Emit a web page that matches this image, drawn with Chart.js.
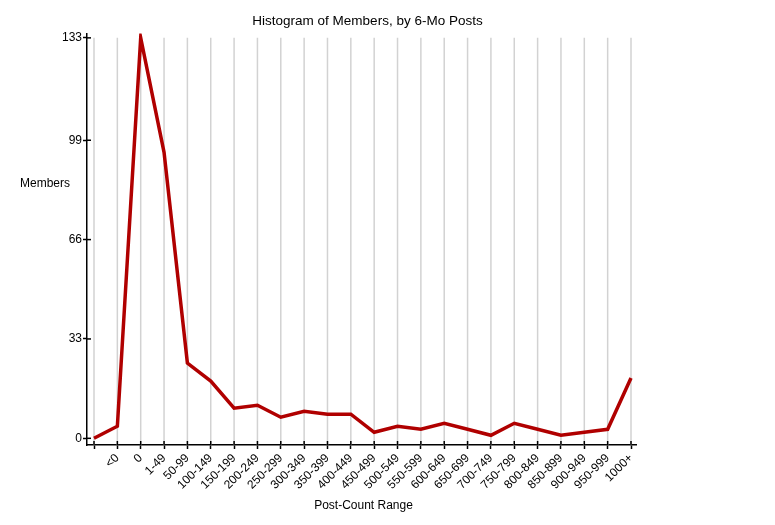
<!DOCTYPE html>
<html>
<head>
<meta charset="utf-8">
<script src="https://cdn.jsdelivr.net/npm/chart.js@4/dist/chart.umd.min.js"></script>
<style>
html,body{margin:0;padding:0;background:#fff;}
#wrap{width:775px;height:525px;position:relative;}
</style>
</head>
<body>
<div id="wrap"><canvas id="c" width="775" height="525"></canvas></div>
<script>
const categories = ["", "<0", "0", "1-49", "50-99", "100-149", "150-199", "200-249", "250-299",
  "300-349", "350-399", "400-449", "450-499", "500-549", "550-599", "600-649", "650-699",
  "700-749", "750-799", "800-849", "850-899", "900-949", "950-999", "1000+"];
const members = [0, 4, 133, 95, 25, 19, 10, 11, 7, 9, 8, 8, 2, 4, 3, 5, 3, 1, 5, 3, 1, 2, 3, 20];
const yTicks = [0, 33, 66, 99, 133];
const chartTitle = "Histogram of Members, by 6-Mo Posts";
const xTitle = "Post-Count Range";
const yTitle = "Members";

const FONT = "'Liberation Sans', Arial, Helvetica, sans-serif";

const decor = {
  id: 'decor',
  beforeDatasetsDraw(chart) {
    const ctx = chart.ctx, xs = chart.scales.x, ys = chart.scales.y;
    const area = chart.chartArea;
    ctx.save();
    // vertical grid lines
    ctx.strokeStyle = '#d2d2d2';
    ctx.lineWidth = 1.5;
    const yTop = ys.getPixelForValue(yTicks[yTicks.length - 1]);
    categories.forEach((c, i) => {
      const x = xs.getPixelForValue(i);
      ctx.beginPath();
      ctx.moveTo(x, yTop);
      ctx.lineTo(x, area.bottom);
      ctx.stroke();
    });
    ctx.restore();
  },
  afterDraw(chart) {
    const ctx = chart.ctx, xs = chart.scales.x, ys = chart.scales.y;
    const area = chart.chartArea;
    ctx.save();
    ctx.strokeStyle = '#000';
    ctx.lineWidth = 1.5;
    // inner halves of y ticks
    yTicks.forEach(v => {
      const y = ys.getPixelForValue(v);
      ctx.beginPath();
      ctx.moveTo(area.left, y);
      ctx.lineTo(area.left + 4, y);
      ctx.stroke();
    });
    // inner halves of x ticks
    categories.forEach((c, i) => {
      const x = xs.getPixelForValue(i);
      ctx.beginPath();
      ctx.moveTo(x, area.bottom);
      ctx.lineTo(x, area.bottom - 4);
      ctx.stroke();
    });
    // texts
    ctx.fillStyle = '#000';
    ctx.textBaseline = 'middle';
    ctx.textAlign = 'center';
    ctx.font = '13.5px ' + FONT;
    ctx.fillText(chartTitle, 367.5, 21);
    ctx.font = '12px ' + FONT;
    ctx.fillText(xTitle, 363.5, 506);
    ctx.textAlign = 'left';
    ctx.fillText(yTitle, 20, 184);
    ctx.restore();
  }
};

new Chart(document.getElementById('c'), {
  type: 'line',
  data: {
    datasets: [{
      data: members.map((v, i) => ({x: i, y: v})),
      borderColor: '#b00000',
      borderWidth: 3.5,
      pointRadius: 0,
      fill: false,
      tension: 0,
      borderJoinStyle: 'miter'
    }]
  },
  options: {
    responsive: false,
    animation: false,
    devicePixelRatio: 1,
    layout: { padding: { top: 33.5, right: 139, left: 0, bottom: 0 } },
    plugins: { legend: { display: false }, tooltip: { enabled: false }, title: { display: false } },
    scales: {
      x: {
        type: 'linear',
        min: -0.3,
        max: 23.214,
        afterBuildTicks(scale) { scale.ticks = categories.map((c, i) => ({ value: i })); },
        afterFit(scale) { scale.height = 80; scale.paddingLeft = 0; scale.paddingRight = 0; },
        ticks: {
          autoSkip: false,
          maxRotation: 45,
          minRotation: 45,
          padding: 2,
          color: '#000',
          font: { family: FONT, size: 12 },
          callback(v) { return categories[v] !== undefined ? categories[v] : ''; }
        },
        grid: { drawOnChartArea: false, drawTicks: true, tickLength: 4, tickColor: '#000', tickWidth: 1.5 },
        border: { display: true, color: '#000', width: 1.5 }
      },
      y: {
        type: 'linear',
        min: -2.22,
        max: 134.45,
        afterBuildTicks(scale) { scale.ticks = yTicks.map(v => ({ value: v })); },
        afterFit(scale) { scale.width = 87; scale.paddingTop = 0; scale.paddingBottom = 0; },
        ticks: {
          padding: 1,
          color: '#000',
          font: { family: FONT, size: 12 },
          callback(v) { return String(v); }
        },
        grid: { drawOnChartArea: false, drawTicks: true, tickLength: 4, tickColor: '#000', tickWidth: 1.5 },
        border: { display: true, color: '#000', width: 1.5 }
      }
    }
  },
  plugins: [decor]
});
</script>
</body>
</html>
